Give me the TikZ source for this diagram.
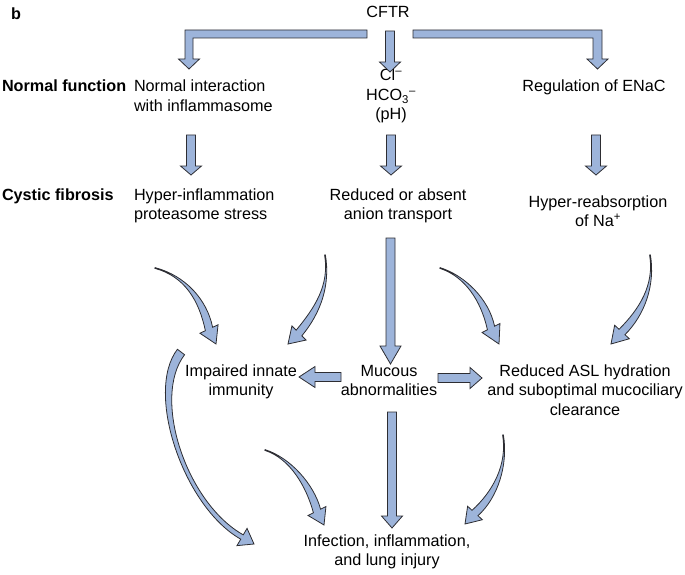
\documentclass[tikz,border=0pt]{standalone}
\usepackage{fontspec}
\setmainfont{Liberation Sans}
\usetikzlibrary{calc}
\definecolor{arrfill}{RGB}{157,180,218}
\definecolor{arrline}{RGB}{45,45,50}
\tikzset{
  blk/.style={fill=arrfill,draw=arrline,line width=0.8pt,line join=miter},
  lbl/.style={inner sep=0pt,outer sep=0pt,anchor=base,align=center,font=\fontsize{16.2}{19.5}\selectfont},
  lbll/.style={lbl,anchor=base west,align=left},
  bld/.style={lbl,anchor=base west,font=\fontsize{16.2}{19.5}\selectfont\bfseries}
}
% straight block arrow: start, tip, head length
\newcommand\myblock[3]{%
  \path ($(#2)!#3!(#1)$) coordinate (hbB);
  \filldraw[blk] ($(#1)!4.5pt!90:(#2)$) -- ($(hbB)!4.5pt!90:(#2)$) -- ($(hbB)!10.5pt!90:(#2)$) -- (#2)
    -- ($(hbB)!10.5pt!-90:(#2)$) -- ($(hbB)!4.5pt!-90:(#2)$) -- ($(#1)!4.5pt!-90:(#2)$) -- cycle;}
% tapered curved arrow: P0, P1, P2, P3 (head base), tip, start half width, end half width
\newcommand\mytaper[7]{%
  \filldraw[blk] ($(#1)!#6!90:(#2)$) .. controls ($(#2)!#6!-90:(#1)$) and ($(#3)!#7!90:(#4)$) .. ($(#4)!#7!90:(#5)$)
    -- ($(#4)!10pt!90:(#5)$) -- (#5) -- ($(#4)!10pt!-90:(#5)$) -- ($(#4)!#7!-90:(#5)$)
    .. controls ($(#3)!#7!-90:(#4)$) and ($(#2)!#6!90:(#1)$) .. ($(#1)!#6!-90:(#2)$) -- cycle;}
\begin{document}
\begin{tikzpicture}[x=1pt,y=-1pt]
\useasboundingbox (0,0) rectangle (685,575);
% texts (base = baseline of the last line)
\node[bld] (b) at (11,20) {b};
\node[lbl] (cftr) at (388,18) {CFTR};
\node[bld] (nf) at (2,92) {Normal function};
\node[lbll] (ni) at (134,111.5) {Normal interaction\\with inflammasome};
\node[lbl] (ion) at (391,120) {Cl\textsuperscript{–}\\HCO\textsubscript{3}\textsuperscript{–}\\(pH)};
\node[lbl] (reg) at (594,92) {Regulation of ENaC};
\node[bld] (cf) at (2,200) {Cystic fibrosis};
\node[lbll] (hi) at (134,219.5) {Hyper-inflammation\\proteasome stress};
\node[lbl] (ra) at (398,219.5) {Reduced or absent\\anion transport};
\node[lbl] (hr) at (598,226.5) {Hyper-reabsorption\\of Na\textsuperscript{+}};
\node[lbl] (ii) at (241,395.5) {Impaired innate\\immunity};
\node[lbl] (mu) at (389,395.5) {Mucous\\abnormalities};
\node[lbl] (asl) at (585,415) {Reduced ASL hydration\\and suboptimal mucociliary\\clearance};
\node[lbl] (inf) at (387,565.5) {Infection, inflammation,\\and lung injury};
% top bracket arrows
\filldraw[blk] (367,30) -- (185,30) -- (185,59) -- (178.5,59) -- (189,69) -- (199.5,59) -- (193,59) -- (193,38) -- (367,38) -- cycle;
\filldraw[blk] (413,30) -- (602,30) -- (602,59) -- (608,59) -- (597.5,69) -- (587,59) -- (593,59) -- (593,38) -- (413,38) -- cycle;
\myblock{390,31}{390,72}{10pt}
% second row
\myblock{191,135}{191,175}{9pt}
\myblock{391,135}{391,175}{9pt}
\myblock{596,135}{596,175}{9pt}
% long middle
\myblock{390.5,238}{390.5,364}{18pt}
% horizontal
\myblock{341,377}{299,377}{16pt}
\myblock{438,378}{482,378}{12pt}
% bottom middle
\myblock{392,412}{392,528}{12pt}
% curved arrows
\mytaper{155,268}{185,276}{203,300}{209,329}{216,344}{0.4pt}{4pt}
\mytaper{325,255}{330,285}{318,310}{299,333}{288,344}{0.4pt}{4pt}
\mytaper{440,268}{465,276}{485,300}{491,328}{499,344}{0.4pt}{4pt}
\mytaper{650,255}{655,285}{642,312}{622,332}{611,344}{0.4pt}{4pt}
\mytaper{181,352}{148,395}{185,505}{242,537}{254,544}{4.5pt}{2.5pt}
\mytaper{265,450}{290,458}{310,485}{317,511}{324,525}{0.4pt}{4pt}
\mytaper{503,435}{508,465}{495,495}{475,513}{465,524}{0.4pt}{4pt}
\end{tikzpicture}
\end{document}
